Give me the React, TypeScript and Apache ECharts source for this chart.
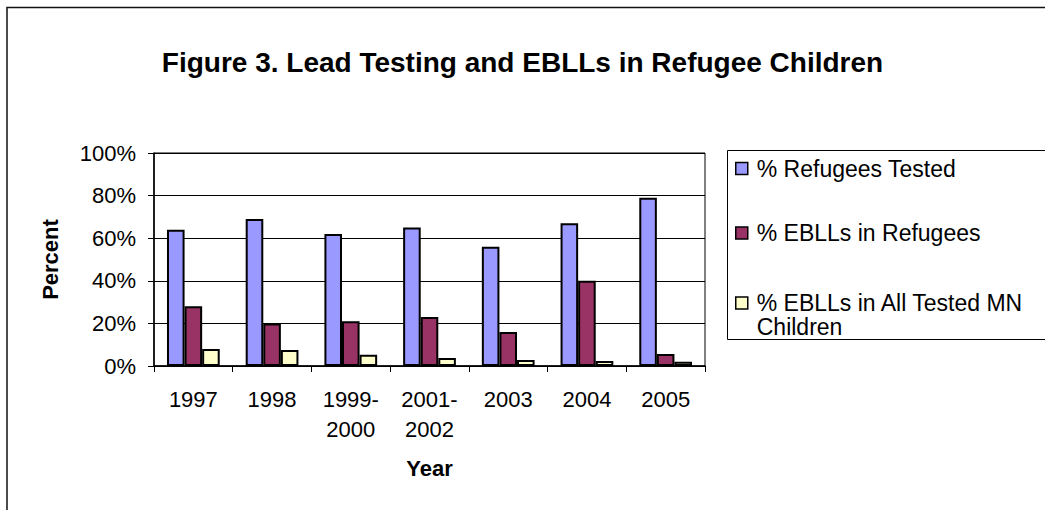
import React, { useEffect, useRef } from "react";
import * as echarts from "echarts";

const categories = ["1997", "1998", "1999-\n2000", "2001-\n2002", "2003", "2004", "2005"];
const refugeesTested = [64, 69, 62, 65, 56, 67, 79];
const ebllsRefugees = [28, 20, 21, 23, 16, 40, 5.6];
const ebllsAllMN = [8, 7.5, 5.3, 3.8, 2.8, 2.3, 2.0];
const seriesNames = ["% Refugees Tested", "% EBLLs in Refugees", "% EBLLs in All Tested MN Children"];
const seriesColors = ["#9999FF", "#993366", "#FFFFCC"];

const FONT = "'Liberation Sans', Arial, Helvetica, sans-serif";

export default function App() {
  const ref = useRef<HTMLDivElement>(null);
  useEffect(() => {
    if (!ref.current) return;
    const chart = echarts.init(ref.current, null, { renderer: "svg" });
    const dataSets = [refugeesTested, ebllsRefugees, ebllsAllMN];
    const legendBase = {
      orient: "vertical",
      left: 735,
      padding: 0,
      itemWidth: 12,
      itemHeight: 12,
      icon: "rect",
      itemStyle: { borderColor: "#000", borderWidth: 1.5 },
      textStyle: { fontFamily: FONT, fontSize: 23, color: "#000", lineHeight: 24, padding: [0, 0, 0, 4] },
      selectedMode: false,
    };
    chart.setOption({
      animation: false,
      backgroundColor: "#fff",
      title: {
        text: "Figure 3. Lead Testing and EBLLs in Refugee Children",
        left: "center",
        top: 43,
        textStyle: { fontFamily: FONT, fontSize: 28, fontWeight: "bold", color: "#000" },
      },
      graphic: [
        {
          type: "rect",
          shape: { x: 7, y: 7.5, width: 1200, height: 700 },
          style: { fill: "none", stroke: "#111", lineWidth: 1.5 },
          silent: true,
          z: 0,
        },
        {
          type: "rect",
          shape: { x: 727.5, y: 150.5, width: 400, height: 189 },
          style: { fill: "none", stroke: "#000", lineWidth: 1 },
          silent: true,
        },
      ],
      legend: [
        { ...legendBase, top: 156.5, data: [seriesNames[0]] },
        { ...legendBase, top: 221, data: [seriesNames[1]] },
        {
          ...legendBase,
          top: 291,
          data: [seriesNames[2]],
          itemHeight: 36,
          icon: "path://M0,0L12,0L12,12L0,12Z M0,36L0,36",
          textStyle: { ...legendBase.textStyle, lineHeight: 24 },
          formatter: (name: string) => name.replace("MN ", "MN\n"),
        },
      ],
      grid: {
        left: 154,
        right: 340,
        top: 153,
        bottom: 144,
        show: true,
        borderColor: "#000",
        borderWidth: 1,
        backgroundColor: "#fff",
      },
      xAxis: {
        type: "category",
        data: categories,
        name: "Year",
        nameLocation: "middle",
        nameGap: 91,
        nameTextStyle: { fontFamily: FONT, fontSize: 22, fontWeight: "bold", color: "#000" },
        axisLine: { lineStyle: { color: "#000", width: 1.5 } },
        axisTick: { show: true, length: 6, lineStyle: { color: "#000", width: 1 } },
        axisLabel: {
          interval: 0,
          margin: 18,
          fontFamily: FONT,
          fontSize: 22,
          lineHeight: 30,
          color: "#000",
        },
      },
      yAxis: {
        type: "value",
        min: 0,
        max: 100,
        interval: 20,
        name: "Percent",
        nameLocation: "middle",
        nameGap: 93,
        nameTextStyle: { fontFamily: FONT, fontSize: 22, fontWeight: "bold", color: "#000" },
        axisLine: { show: true, lineStyle: { color: "#000", width: 1.5 } },
        axisTick: { show: true, length: 6, lineStyle: { color: "#000", width: 1 } },
        axisLabel: { formatter: "{value}%", margin: 18, fontFamily: FONT, fontSize: 22, color: "#000" },
        splitLine: { show: true, lineStyle: { color: "#000", width: 1 } },
      },
      series: seriesNames.map((name, i) => ({
        name,
        type: "bar",
        data: dataSets[i],
        barGap: "0%",
        barCategoryGap: "33%",
        itemStyle: { color: seriesColors[i], borderColor: "#000", borderWidth: 2 },
      })),
    });
    return () => chart.dispose();
  }, []);
  return (
    <div
      ref={ref}
      style={{ position: "fixed", left: 0, top: 0, width: 1045, height: 510, background: "#fff" }}
    />
  );
}
